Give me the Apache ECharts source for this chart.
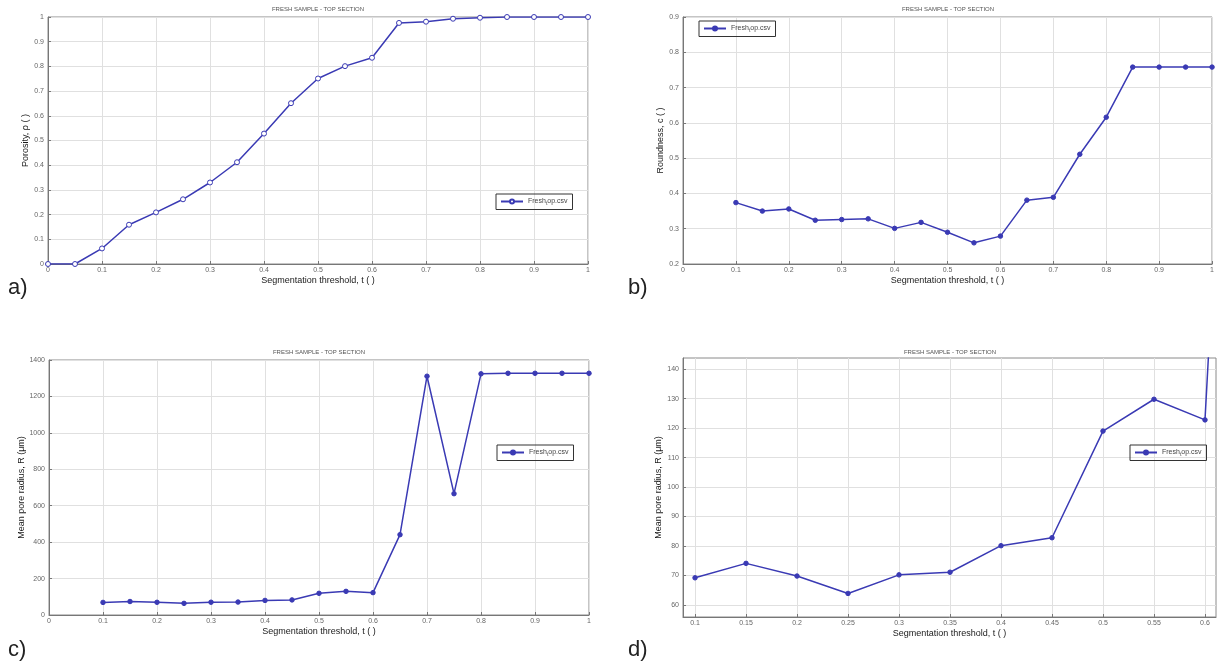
<!DOCTYPE html>
<html>
<head>
    <meta charset="utf-8">
    <title>Fresh sample - top section</title>
    <style>
        html,body,#main{
            height: 100%;
            width: 100%;
            padding: 0;
            margin: 0;
            background: #fff;
        }
    </style>
</head>
<body>
    <div id="main"></div>
    <script src="https://cdn.jsdelivr.net/npm/echarts@6/dist/echarts.min.js"></script>
    <script>
        // segmentation thresholds t
        let thresholds = [0, 0.05, 0.1, 0.15, 0.2, 0.25, 0.3, 0.35, 0.4, 0.45, 0.5,
                          0.55, 0.6, 0.65, 0.7, 0.75, 0.8, 0.85, 0.9, 0.95, 1]
        // a) porosity
        let porosity = [0, 0, 0.063, 0.159, 0.209, 0.262, 0.330, 0.412, 0.528, 0.651, 0.751,
                        0.801, 0.835, 0.976, 0.981, 0.993, 0.997, 1, 1, 1, 1]
        // b) roundness
        let roundness = [null, null, 0.374, 0.350, 0.356, 0.324, 0.326, 0.328, 0.301, 0.318, 0.290,
                         0.260, 0.279, 0.381, 0.389, 0.511, 0.616, 0.758, 0.758, 0.758, 0.758]
        // c) and d) mean pore radius (um)
        let radius = [null, null, 69.2, 74.1, 69.8, 63.9, 70.2, 71.1, 80.1, 82.8, 119,
                      129.8, 122.8, 441, 1311, 666, 1324, 1327, 1327, 1327, 1327]
        // d) zoomed tick labels
        let zoomTicksX = [0.1, 0.15, 0.2, 0.25, 0.3, 0.35, 0.4, 0.45, 0.5, 0.55, 0.6]
        let zoomTicksY = [60, 70, 80, 90, 100, 110, 120, 130, 140]

        let titleText = 'FRESH SAMPLE - TOP SECTION'
        let xName = 'Segmentation threshold, t ( )'
        let blue = '#3a3ab4'
        let font = 'Liberation Sans, Arial, sans-serif'

        function pairs(ys){
            let out = []
            for (let i = 0; i < thresholds.length; i++) {
                if (ys[i] !== null) out.push([thresholds[i], ys[i]])
            }
            return out
        }

        let grids = [
            {left: 48, top: 17, width: 540, height: 247},
            {left: 683, top: 17, width: 530, height: 247},
            {left: 49, top: 360, width: 540, height: 255},
            {left: 683, top: 358, width: 533, height: 259}
        ]
        grids.forEach(function(g){
            g.show = true
            g.borderColor = '#8a8a8a'
            g.borderWidth = 1
            g.backgroundColor = '#fff'
        })

        let tickLabel = {fontSize: 7, color: '#666', fontFamily: font, formatter: function(v){ return String(v) }}

        function xAxis(i, extra){
            return Object.assign({
                type: 'value', gridIndex: i, min: 0, max: 1, interval: 0.1,
                name: xName, nameLocation: 'middle', nameGap: 12,
                nameTextStyle: {fontSize: 9, color: '#1a1a1a', fontFamily: font},
                axisLine: {lineStyle: {color: '#777'}},
                axisTick: {inside: true, length: 3, lineStyle: {color: '#777'}},
                axisLabel: Object.assign({margin: 3}, tickLabel),
                splitLine: {lineStyle: {color: '#e0e0e0'}}
            }, extra || {})
        }

        function yAxis(i, name, gap, extra){
            return Object.assign({
                type: 'value', gridIndex: i,
                name: name, nameLocation: 'middle', nameGap: gap,
                nameTextStyle: {fontSize: 9, color: '#1a1a1a', fontFamily: font},
                axisLine: {lineStyle: {color: '#777'}},
                axisTick: {inside: true, length: 3, lineStyle: {color: '#777'}},
                axisLabel: Object.assign({margin: 4}, tickLabel),
                splitLine: {lineStyle: {color: '#e0e0e0'}}
            }, extra || {})
        }

        function series(i, name, data, open){
            return {
                type: 'line', name: name, xAxisIndex: i, yAxisIndex: i,
                data: data, symbol: 'circle', symbolSize: open ? 5 : 4.5,
                showAllSymbol: true, clip: true, animation: false,
                lineStyle: {color: blue, width: 1.5},
                itemStyle: {color: open ? '#fff' : blue, borderColor: blue, borderWidth: 1}
            }
        }

        function legend(name, left, top){
            return {
                data: [name], left: left, top: top, orient: 'vertical',
                borderColor: '#333', borderWidth: 1, padding: [4, 5, 3, 4],
                itemWidth: 22, itemHeight: 5, itemGap: 3, selectedMode: false,
                formatter: function(){ return '{a|Fresh}{b|t}{a|op.csv}' },
                textStyle: {
                    fontSize: 7, color: '#444', fontFamily: font,
                    rich: {
                        a: {fontSize: 7, color: '#444', fontFamily: font},
                        b: {fontSize: 5, color: '#444', fontFamily: font, padding: [5, 0, 0, 0]}
                    }
                }
            }
        }

        function label(text, x, y, size, color){
            return {
                type: 'text', left: x, top: y,
                style: {text: text, fontSize: size, fill: color, fontFamily: font}
            }
        }
        function title(cx, y){
            return {
                type: 'text', x: cx, y: y,
                style: {text: titleText, fontSize: 6, fill: '#555', fontFamily: font,
                        align: 'center', verticalAlign: 'middle'}
            }
        }

        let chart = echarts.init(document.getElementById('main'))
        chart.setOption({
            backgroundColor: '#fff',
            animation: false,
            grid: grids,
            xAxis: [
                xAxis(0),
                xAxis(1),
                xAxis(2),
                xAxis(3, {
                    min: 0.0882, max: 0.6108, interval: null,
                    axisLabel: Object.assign({margin: 3, customValues: zoomTicksX}, tickLabel),
                    axisTick: {inside: true, length: 3, lineStyle: {color: '#777'}, customValues: zoomTicksX}
                })
            ],
            yAxis: [
                yAxis(0, 'Porosity, \u03c1 ( )', 16, {min: 0, max: 1, interval: 0.1}),
                yAxis(1, 'Roundness, c ( )', 16, {min: 0.2, max: 0.9, interval: 0.1}),
                yAxis(2, 'Mean pore radius, R (\u03bcm)', 23, {min: 0, max: 1400, interval: 200}),
                yAxis(3, 'Mean pore radius, R (\u03bcm)', 19, {
                    min: 55.9, max: 143.8,
                    axisLabel: Object.assign({margin: 4, customValues: zoomTicksY}, tickLabel),
                    axisTick: {inside: true, length: 3, lineStyle: {color: '#777'}, customValues: zoomTicksY}
                })
            ],
            legend: [
                legend('a', 496, 194),
                legend('b', 699, 21),
                legend('c', 497, 445),
                legend('d', 1130, 445)
            ],
            series: [
                series(0, 'a', pairs(porosity), true),
                series(1, 'b', pairs(roundness), false),
                series(2, 'c', pairs(radius), false),
                series(3, 'd', pairs(radius), false)
            ],
            graphic: [
                title(318, 9),
                title(948, 9),
                title(319, 352),
                title(950, 352),
                label('a)', 8, 277, 22, '#222'),
                label('b)', 628, 277, 22, '#222'),
                label('c)', 8, 639, 22, '#222'),
                label('d)', 628, 639, 22, '#222')
            ]
        })
    </script>
</body>
</html>
